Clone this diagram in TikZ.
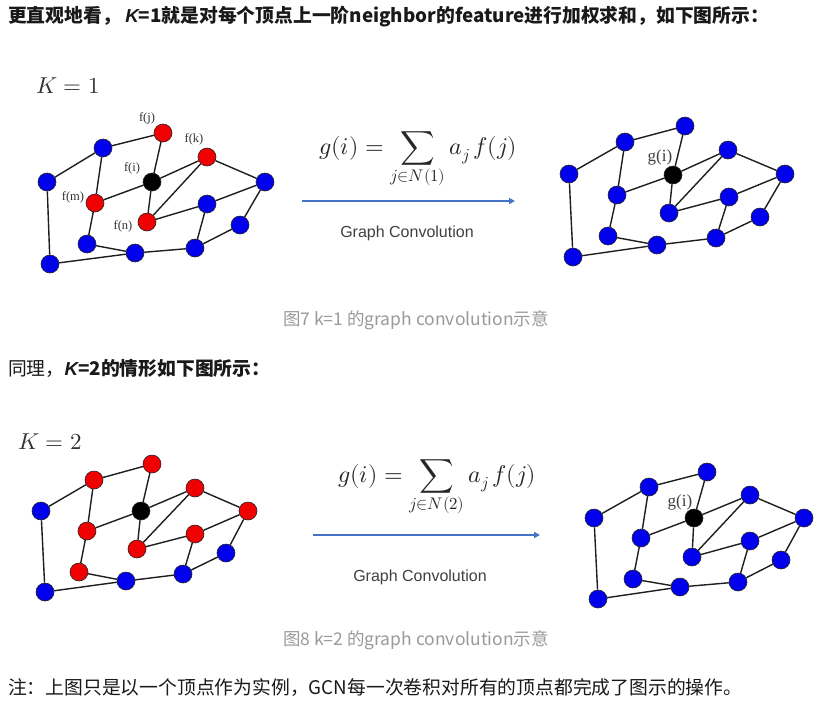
\documentclass[tikz,border=0pt]{standalone}
\usepackage{fontspec}
\usepackage{unicode-math}
\setmainfont{Liberation Serif}
\setmathfont{Latin Modern Math}
\newfontfamily\cjk{Noto Sans CJK SC}
\newfontfamily\lsans{Liberation Sans}
\usetikzlibrary{arrows.meta,positioning,backgrounds}
\definecolor{Vblue}{HTML}{0000EC}
\definecolor{Vred}{HTML}{F00000}
\definecolor{Conv}{HTML}{4472C4}
\definecolor{Cap}{HTML}{9A9A9A}
\definecolor{Ink}{HTML}{1E1E1E}

\tikzset{
  vtx/.style={circle,draw=black!85,line width=0.6pt,minimum size=18pt,inner sep=0pt},
  link/.style={draw=Ink,line width=1.4pt},
  flab/.style={font=\fontsize{12.5}{13}\selectfont,text=black!80,inner sep=0pt},
  glab/.style={font=\fontsize{17}{18}\selectfont,text=black!75,inner sep=0pt},
  klab/.style={font=\fontsize{23}{26}\selectfont,text=black!80,inner sep=0pt},
  sumlab/.style={font=\fontsize{24}{28}\selectfont,text=black!85,inner sep=0pt},
  conv/.style={draw=Conv,line width=1.6pt,-{Triangle[length=6pt,width=6pt]}},
  convlab/.style={font=\lsans\fontsize{16}{18}\selectfont,text=black!75,inner sep=0pt},
  body/.style={anchor=west,inner sep=0pt,font=\cjk\fontsize{18.8}{20}\selectfont,text=black!90},
  caption/.style={inner sep=0pt,font=\cjk\fontsize{17.5}{19}\selectfont,text=Cap}
}

\begin{document}
\begin{tikzpicture}[x=1pt,y=-1pt]
  \useasboundingbox (0,0) rectangle (814,702);

  % text lines
  \node[body] (line1) at (8,17) {\bfseries 更直观地看，\ {\lsans\itshape K}=1就是对每个顶点上一阶neighbor的feature进行加权求和，如下图所示：};
  \node[caption] (cap1) at (416,320) {图7 k=1 的graph convolution示意};
  \node[body] (line2) at (8,368) {同理，{\bfseries{\lsans\itshape K}=2的情形如下图所示：}};
  \node[caption] (cap2) at (416,640) {图8 k=2 的graph convolution示意};
  \node[body] (line3) at (8,688) {注：上图只是以一个顶点作为实例，GCN每一次卷积对所有的顶点都完成了图示的操作。};

  % K = 1, before
  \node[klab] (k1) at (68,86) {$K=1$};
  \foreach \n/\x/\y/\c in {a/47/182/Vblue,b/103/148/Vblue,j/163/133/Vred,k/207/157/Vred,i/152/182/black,
      m/95/203/Vred,n/147/222/Vred,r/265/182/Vblue,c/207/204/Vblue,d/240/225/Vblue,
      p/87/244/Vblue,q/135/253/Vblue,s/195/248/Vblue,e/50/264/Vblue}
    \node[vtx,fill=\c] (A\n) at (\x,\y) {};
  \node[flab] at ([shift={(-16,-15)}]Aj) {f(j)};
  \node[flab] at ([shift={(-13,-18)}]Ak) {f(k)};
  \node[flab] at ([shift={(-20,-14)}]Ai) {f(i)};
  \node[flab] at ([shift={(-22,-6)}]Am) {f(m)};
  \node[flab] at ([shift={(-24,4)}]An) {f(n)};

  % K = 1, after
  \foreach \n/\x/\y/\c in {a/569/174/Vblue,b/625/142/Vblue,j/685/126/Vblue,k/728/150/Vblue,i/673/175/black,
      m/617/195/Vblue,n/669/213/Vblue,r/785/174/Vblue,c/729/197/Vblue,d/760/217/Vblue,
      p/608/236/Vblue,q/657/245/Vblue,s/716/238/Vblue,e/573/257/Vblue}
    \node[vtx,fill=\c] (B\n) at (\x,\y) {};
  \node[glab] at ([shift={(-13,-18)}]Bi) {g(i)};

  % K = 2, before
  \node[klab] (k2) at (50,442) {$K=2$};
  \foreach \n/\x/\y/\c in {a/41/511/Vblue,b/94/480/Vred,j/152/464/Vred,k/195/488/Vred,i/141/511/black,
      m/87/531/Vred,n/137/549/Vred,r/248/511/Vred,c/195/534/Vred,d/226/553/Vblue,
      p/79/572/Vred,q/126/581/Vblue,s/183/574/Vblue,e/45/592/Vblue}
    \node[vtx,fill=\c] (C\n) at (\x,\y) {};

  % K = 2, after
  \foreach \n/\x/\y/\c in {a/594/518/Vblue,b/649/487/Vblue,j/707/472/Vblue,k/750/495/Vblue,i/694/518/black,
      m/641/538/Vblue,n/692/557/Vblue,r/804/518/Vblue,c/750/541/Vblue,d/781/560/Vblue,
      p/633/579/Vblue,q/680/587/Vblue,s/738/582/Vblue,e/598/599/Vblue}
    \node[vtx,fill=\c] (D\n) at (\x,\y) {};
  \node[glab] at ([shift={(-14,-16)}]Di) {g(i)};

  % same edges in all four graphs
  \begin{scope}[on background layer]
    \fill[white] (0,0) rectangle (814,702);
    \foreach \g in {A,B,C,D}
      \foreach \u/\v in {a/b,b/j,b/m,j/i,i/k,i/m,i/n,k/n,k/r,r/c,c/n,r/d,c/s,d/s,m/p,p/q,q/s,a/e,e/q}
        \draw[link] (\g\u) -- (\g\v);
  \end{scope}

  % convolution arrows
  \node[sumlab] (sum1) at (418,160) {$\displaystyle g(i) = \sum_{j\in N(1)} a_j\, f(j)$};
  \coordinate (c1s) at (302,201);
  \coordinate (c1e) at (515,201);
  \draw[conv] (c1s) -- (c1e);
  \node[convlab] (gc1) at (407,233) {Graph Convolution};

  \node[sumlab] (sum2) at (437,488) {$\displaystyle g(i) = \sum_{j\in N(2)} a_j\, f(j)$};
  \coordinate (c2s) at (313,535);
  \coordinate (c2e) at (540,535);
  \draw[conv] (c2s) -- (c2e);
  \node[convlab] (gc2) at (420,577) {Graph Convolution};
\end{tikzpicture}
\end{document}
